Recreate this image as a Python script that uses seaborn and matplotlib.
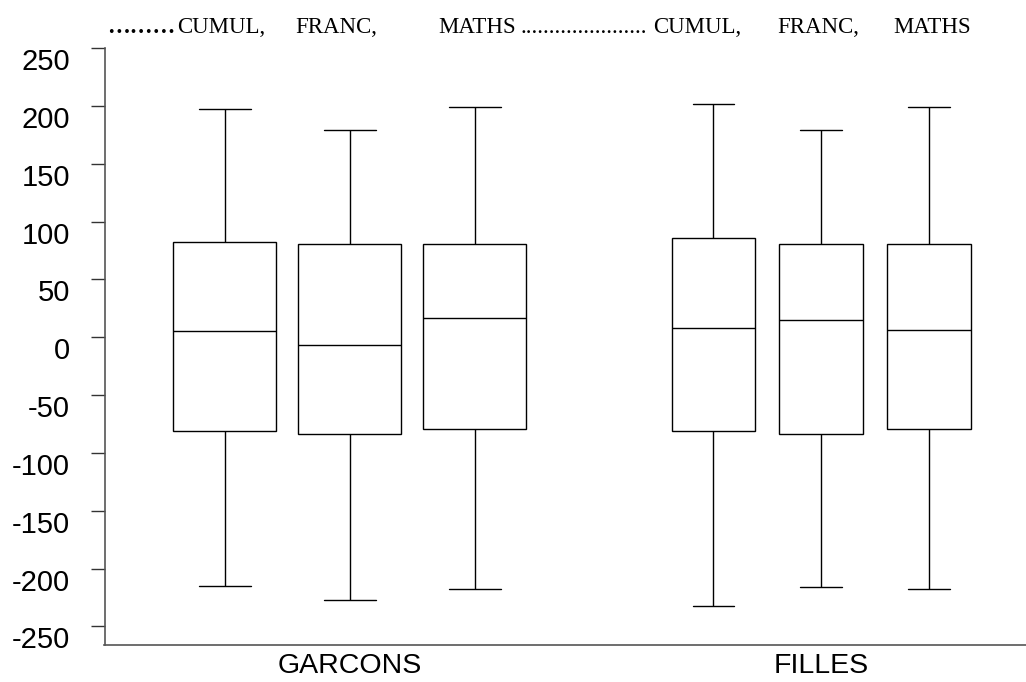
import numpy as np
import pandas as pd
import matplotlib
matplotlib.use("Agg")
import matplotlib.pyplot as plt
import seaborn as sns

groups = ["GARCONS", "FILLES"]
subjects = ["CUMUL", "FRANC", "MATHS"]

# box statistics, one value per subject (CUMUL, FRANC, MATHS)
garcons_min = [-215, -227, -218]
garcons_q1 = [-81, -84, -79]
garcons_med = [5, -7, 17]
garcons_q3 = [82, 81, 81]
garcons_max = [197, 179, 199]

filles_min = [-232, -216, -218]
filles_q1 = [-81, -84, -79]
filles_med = [8, 15, 6]
filles_q3 = [86, 81, 81]
filles_max = [202, 179, 199]

rows = []
for grp, stats in [("GARCONS", [garcons_min, garcons_q1, garcons_med, garcons_q3, garcons_max]),
                   ("FILLES", [filles_min, filles_q1, filles_med, filles_q3, filles_max])]:
    for i, subj in enumerate(subjects):
        for s in stats:
            rows.append({"group": grp, "subject": subj, "value": s[i]})
df = pd.DataFrame(rows)

sns.set_style("white")
plt.rcParams["font.family"] = ["Liberation Sans", "DejaVu Sans"]
plt.rcParams["axes.unicode_minus"] = False
plt.rcParams["text.color"] = "black"
plt.rcParams["xtick.color"] = "black"
plt.rcParams["ytick.color"] = "black"

fig = plt.figure(figsize=(10.26, 6.82), dpi=100)
ax = fig.add_axes([104.5 / 1026, 1 - 645 / 682, 1 - 104.5 / 1026, (645 - 48) / 682])

# the two groups have different box widths in the reference
for grp, w, g in [("GARCONS", 0.796, 0.176), ("FILLES", 0.685, 0.22)]:
    sns.boxplot(data=df[df["group"] == grp], x="group", y="value", hue="subject",
                order=groups, hue_order=subjects, width=w, gap=g, whis=(0, 100),
                palette={s: "white" for s in subjects}, linecolor="black",
                linewidth=1, legend=False, ax=ax)

ax.set_xlim(-0.521, 1.435)
ax.set_ylim(-266, 250)
ax.set_yticks(np.arange(-250, 251, 50))
ax.set_xlabel("")
ax.set_ylabel("")
sns.despine(ax=ax)
for sp in ["left", "bottom"]:
    ax.spines[sp].set_color("#555555")
    ax.spines[sp].set_linewidth(1.2)
ax.tick_params(axis="y", direction="out", length=10, width=1, color="#333333",
               pad=15, labelsize=21, labelcolor="black", left=True)
ax.tick_params(axis="x", length=0, pad=6, labelsize=20.5, labelcolor="black")
for lab in ax.get_yticklabels():
    lab.set_verticalalignment("top")

# header text above the plot
header = [("………", 107, "bold"), ("CUMUL,", 177, "normal"), ("FRANC,", 295, "normal"),
          ("MATHS", 438, "normal"), ("......................", 521, "normal"),
          ("CUMUL,", 653, "normal"), ("FRANC,", 777, "normal"), ("MATHS", 893, "normal")]
for txt, xp, wt in header:
    fig.text(xp / 1026, 1 - 33 / 682, txt, ha="left", va="baseline", color="black",
             family=["Liberation Serif", "DejaVu Serif"], fontsize=16.5, fontweight=wt)

fig.savefig("out.png", dpi=100)
